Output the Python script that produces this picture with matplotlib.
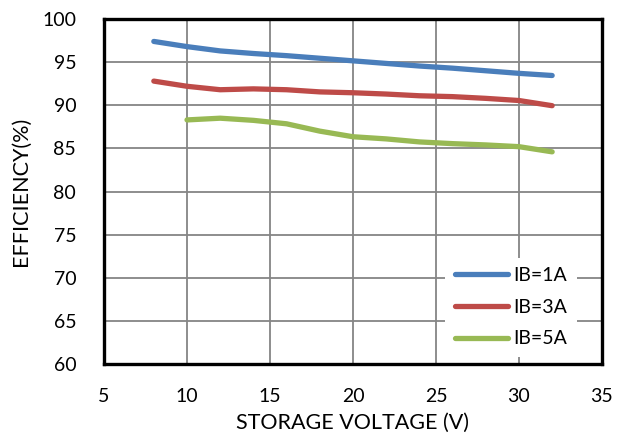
import matplotlib
matplotlib.use('Agg')
import matplotlib.pyplot as plt

plt.rcParams['font.family'] = ['Lato', 'DejaVu Sans']

# efficiency data
v_1a = [8, 10, 12, 14, 16, 18, 20, 22, 24, 26, 28, 30, 32]
eff_1a = [97.4, 96.8, 96.3, 96.0, 95.75, 95.45, 95.15, 94.85, 94.55, 94.3, 94.0, 93.7, 93.45]

v_3a = [8, 10, 12, 14, 16, 18, 20, 22, 24, 26, 28, 30, 32]
eff_3a = [92.8, 92.2, 91.8, 91.9, 91.8, 91.55, 91.45, 91.3, 91.1, 91.0, 90.8, 90.55, 89.95]

v_5a = [10, 12, 14, 16, 18, 20, 22, 24, 26, 28, 30, 32]
eff_5a = [88.3, 88.5, 88.25, 87.85, 87.0, 86.35, 86.1, 85.75, 85.55, 85.4, 85.2, 84.6]

labels = ['IB=1A', 'IB=3A', 'IB=5A']
colors = ['#4A7EBB', '#BE4B48', '#98B954']

fig = plt.figure(figsize=(6.17, 4.40), dpi=100)
ax = fig.add_axes([0.1686, 0.1727, 0.807, 0.7841])

for x, y, lab, c in zip([v_1a, v_3a, v_5a], [eff_1a, eff_3a, eff_5a], labels, colors):
    ax.plot(x, y, color=c, lw=3.8, label=lab, solid_capstyle='round', solid_joinstyle='round')

ax.set_xlim(5, 35)
ax.set_ylim(60, 100)
ax.set_xticks(range(5, 36, 5))
ax.set_yticks(range(60, 101, 5))
ax.grid(True, color='#858585', lw=1.3)
ax.set_axisbelow(True)
for s in ax.spines.values():
    s.set_linewidth(2.4)
    s.set_color('black')
ax.tick_params(axis='both', length=0, labelsize=14)
ax.tick_params(axis='y', pad=20)
ax.tick_params(axis='x', pad=17)

ax.set_xlabel('STORAGE VOLTAGE (V)', fontsize=15.5, labelpad=6)
ax.set_ylabel('EFFICIENCY(%)', fontsize=15.5, labelpad=8)

leg = ax.legend(loc='lower right', bbox_to_anchor=(0.95, 0.02), frameon=True, fontsize=14,
                handlelength=2.7, handletextpad=0.3, labelspacing=0.75, borderpad=0.5,
                borderaxespad=0)
leg.get_frame().set_edgecolor('none')
leg.get_frame().set_facecolor('white')
leg.get_frame().set_alpha(1)
leg.get_frame().set_boxstyle('square', pad=0)

fig.savefig('out.png', dpi=100)
